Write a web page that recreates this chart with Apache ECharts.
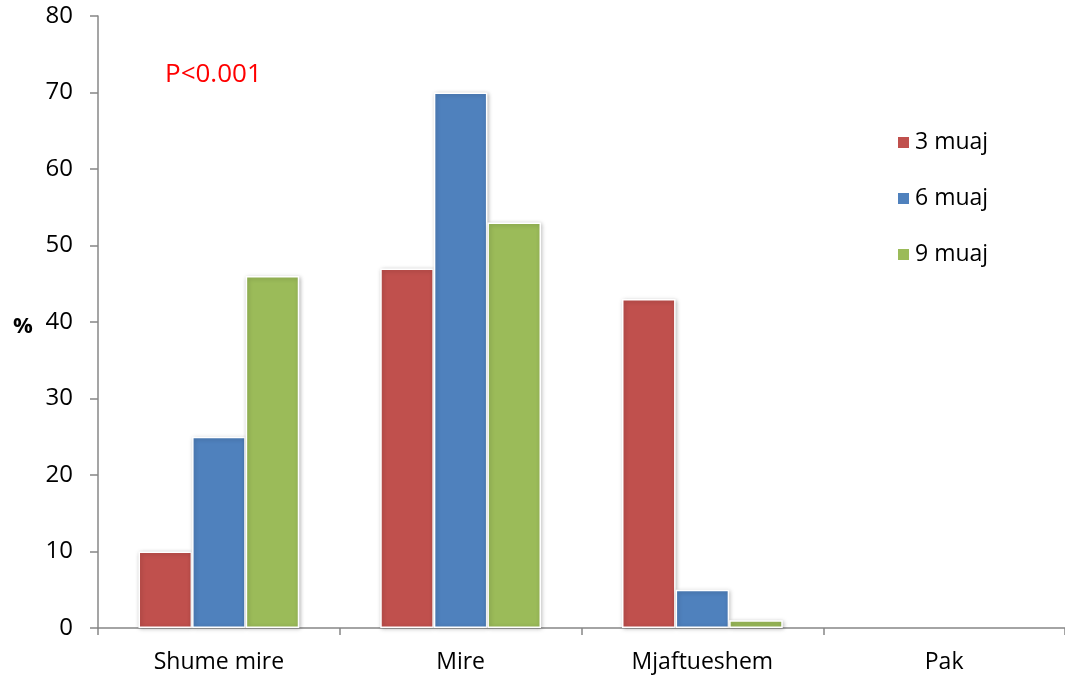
<!DOCTYPE html>
<html>
<head>
<meta charset="utf-8">
<script src="https://cdn.jsdelivr.net/npm/echarts@6/dist/echarts.min.js"></script>
<style>
  html, body { margin: 0; padding: 0; background: #fff; }
  #chart { width: 1065px; height: 676px; }
</style>
</head>
<body>
<div id="chart"></div>
<script>
// Rating categories and percentage per follow-up period
const categories = ['Shume mire', 'Mire', 'Mjaftueshem', 'Pak'];
const months3 = [10, 47, 43, 0];
const months6 = [25, 70, 5, 0];
const months9 = [46, 53, 1, 0];
const seriesNames = ['3 muaj', '6 muaj', '9 muaj'];
const colors = ['#C0504D', '#4F81BD', '#9BBB59'];

const font = '"Open Sans", "Noto Sans", sans-serif';
const chart = echarts.init(document.getElementById('chart'));

// Zero-height bars get no border or shadow so nothing is drawn for them
function toItems(values) {
  return values.map(v => v === 0
    ? { value: v, itemStyle: { borderWidth: 0, shadowBlur: 0, shadowColor: 'rgba(0,0,0,0)' } }
    : v);
}

function barSeries(name, data, color) {
  return {
    name: name,
    type: 'bar',
    data: toItems(data),
    barGap: '0%',
    barCategoryGap: '33.5%',
    itemStyle: {
      color: color,
      borderColor: '#ffffff',
      borderWidth: 1.5,
      shadowColor: 'rgba(0,0,0,0.25)',
      shadowBlur: 4,
      shadowOffsetX: 1,
      shadowOffsetY: 1
    }
  };
}

chart.setOption({
  animation: false,
  color: colors,
  grid: { left: 98, top: 16, width: 972, bottom: 48 },
  legend: {
    orient: 'vertical',
    left: 891,
    top: 126,
    itemGap: 33,
    itemWidth: 13,
    itemHeight: 13,
    icon: 'rect',
    textStyle: { fontFamily: font, fontSize: 23, color: '#000' },
    data: seriesNames
  },
  xAxis: {
    type: 'category',
    data: categories,
    axisLine: { lineStyle: { color: '#878787', width: 1.5 } },
    axisTick: { show: true, length: 7, alignWithLabel: false, lineStyle: { color: '#878787', width: 1.5 } },
    axisLabel: { fontFamily: font, fontSize: 23, color: '#000', margin: 23 }
  },
  yAxis: {
    type: 'value',
    min: 0,
    max: 80,
    interval: 10,
    axisLine: { show: true, lineStyle: { color: '#878787', width: 1.5 } },
    axisTick: { show: true, length: 8, lineStyle: { color: '#878787', width: 1.5 } },
    splitLine: { show: false },
    axisLabel: { fontFamily: font, fontSize: 24, color: '#000', margin: 25 }
  },
  graphic: [{
    type: 'text',
    left: 165,
    top: 62,
    style: { text: 'P<0.001', fill: '#FF0000', font: '26px ' + font }
  }, {
    // y-axis unit
    type: 'text',
    left: 13,
    top: 316,
    style: { text: '%', fill: '#000', font: 'bold 22px ' + font }
  }],
  series: [
    barSeries(seriesNames[0], months3, colors[0]),
    barSeries(seriesNames[1], months6, colors[1]),
    barSeries(seriesNames[2], months9, colors[2])
  ]
});
</script>
</body>
</html>
